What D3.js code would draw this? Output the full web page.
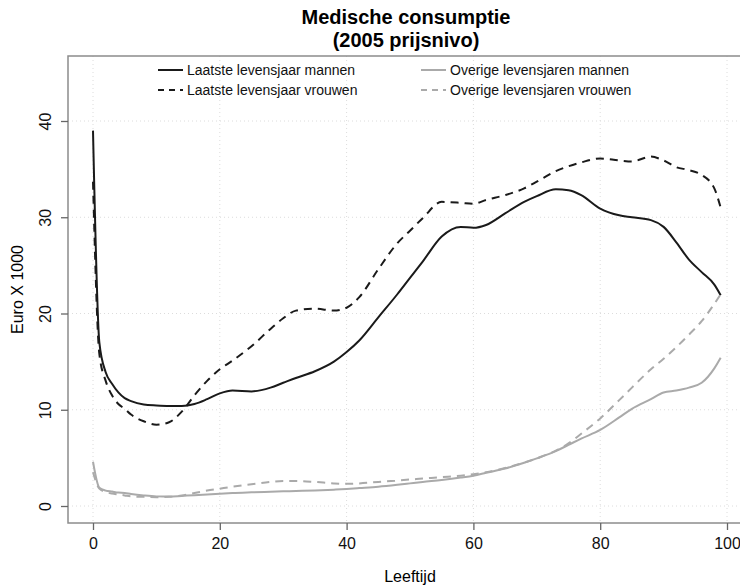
<!DOCTYPE html>
<html>
<head>
<meta charset="utf-8">
<script src="https://cdn.jsdelivr.net/npm/d3@7"></script>
<style>
  body { margin: 0; background: #fff; }
  svg { font-family: "Liberation Sans", Arial, Helvetica, sans-serif; }
</style>
</head>
<body>
<div id="chart"></div>
<script>
// leeftijden (x) en waarden in euro x 1000
const ages = [0,1,2,3,4,5,6,8,10,12,14,16,18,20,22,25,28,30,32,35,38,40,42,45,48,50,52,55,58,60,62,65,68,70,73,75,77,80,83,85,88,90,92,94,96,98,99];
const laatsteMannen = [39,17,13.9,12.7,11.8,11.2,10.9,10.55,10.45,10.4,10.4,10.6,11.1,11.7,12.0,11.9,12.3,12.8,13.3,14.0,15.0,16.0,17.2,19.6,22.0,23.7,25.4,28.0,29.0,28.9,29.2,30.4,31.6,32.2,32.9,32.8,32.3,30.9,30.2,30.0,29.7,29.0,27.4,25.6,24.3,23.0,21.9];
const laatsteVrouwen = [33.7,15.8,13.0,11.5,10.6,10.1,9.5,8.8,8.45,8.7,9.8,11.5,13.0,14.2,15.1,16.6,18.4,19.5,20.3,20.5,20.3,20.6,21.7,24.6,27.3,28.6,29.9,31.6,31.5,31.4,31.8,32.3,33.0,33.7,34.8,35.3,35.7,36.1,35.9,35.8,36.3,35.9,35.2,34.9,34.4,33.0,31.0];
const overigeMannen = [4.6,1.9,1.6,1.5,1.4,1.35,1.25,1.1,1.0,0.98,1.05,1.12,1.2,1.28,1.35,1.42,1.48,1.52,1.56,1.62,1.7,1.77,1.86,2.0,2.2,2.35,2.5,2.7,2.95,3.15,3.45,3.9,4.5,4.95,5.7,6.35,7.0,7.9,9.2,10.1,11.1,11.8,12.0,12.3,12.8,14.3,15.4];
const overigeVrouwen = [3.5,1.8,1.45,1.3,1.2,1.1,1.0,0.95,0.92,0.95,1.1,1.35,1.6,1.8,2.0,2.25,2.5,2.6,2.6,2.5,2.35,2.3,2.35,2.5,2.65,2.75,2.85,3.0,3.15,3.3,3.5,3.95,4.5,4.95,5.75,6.5,7.5,9.1,11.0,12.3,14.2,15.3,16.5,17.8,19.2,21.0,22.0];
const xTicks = [0,20,40,60,80,100];
const yTicks = [0,10,20,30,40];

const series = [
  {name: "Laatste levensjaar mannen", values: laatsteMannen, color: "#1a1a1a", dash: null},
  {name: "Laatste levensjaar vrouwen", values: laatsteVrouwen, color: "#1a1a1a", dash: "8,6"},
  {name: "Overige levensjaren mannen", values: overigeMannen, color: "#aaaaaa", dash: null},
  {name: "Overige levensjaren vrouwen", values: overigeVrouwen, color: "#aaaaaa", dash: "8,6"}
];

const width = 740, height = 586;
const box = {left: 68, right: 748, top: 56, bottom: 523};

const svg = d3.select("#chart").append("svg")
  .attr("width", width)
  .attr("height", height);

const x = d3.scaleLinear().domain([0, 100]).range([93, 727]);
const y = d3.scaleLinear().domain([0, 40]).range([506, 121]);

// grid (dotted)
svg.append("g").selectAll("line").data(xTicks).enter().append("line")
  .attr("x1", d => x(d)).attr("x2", d => x(d))
  .attr("y1", box.top).attr("y2", box.bottom)
  .attr("stroke", "#dcdcdc").attr("stroke-dasharray", "1,3");
svg.append("g").selectAll("line").data(yTicks).enter().append("line")
  .attr("x1", box.left).attr("x2", box.right)
  .attr("y1", d => y(d)).attr("y2", d => y(d))
  .attr("stroke", "#dcdcdc").attr("stroke-dasharray", "1,3");

// frame
svg.append("rect")
  .attr("x", box.left).attr("y", box.top)
  .attr("width", box.right - box.left).attr("height", box.bottom - box.top)
  .attr("fill", "none").attr("stroke", "#8c8c8c").attr("stroke-width", 1.5);

// axes
const xAxis = svg.append("g")
  .attr("transform", "translate(0," + box.bottom + ")")
  .call(d3.axisBottom(x).tickValues(xTicks).tickSize(7).tickPadding(8));
const yAxis = svg.append("g")
  .attr("transform", "translate(" + box.left + ",0)")
  .call(d3.axisLeft(y).tickValues(yTicks).tickSize(7).tickPadding(9));
[xAxis, yAxis].forEach(a => {
  a.select(".domain").remove();
  a.selectAll(".tick line").attr("stroke", "#666").attr("stroke-width", 1.3);
  a.selectAll("text").attr("font-size", 16).attr("fill", "#111")
    .attr("font-family", "'Liberation Sans', Arial, sans-serif");
});
yAxis.selectAll(".tick text")
  .attr("text-anchor", "middle")
  .attr("dy", null)
  .attr("transform", "rotate(-90)")
  .attr("x", 0)
  .attr("y", -17);

// lines
const line = d3.line()
  .x((d, i) => x(ages[i]))
  .y(d => y(d))
  .curve(d3.curveMonotoneX);

series.forEach(s => {
  svg.append("path")
    .datum(s.values)
    .attr("d", line)
    .attr("fill", "none")
    .attr("stroke", s.color)
    .attr("stroke-width", 2)
    .attr("stroke-dasharray", s.dash);
});

// legend
const legendPos = [[158, 70], [158, 90], [421, 70], [421, 90]];
series.forEach((s, i) => {
  const [lx, ly] = legendPos[i];
  svg.append("line")
    .attr("x1", lx).attr("x2", lx + 25)
    .attr("y1", ly).attr("y2", ly)
    .attr("stroke", s.color).attr("stroke-width", 2)
    .attr("stroke-dasharray", s.dash ? "6,5" : null);
  svg.append("text")
    .attr("x", lx + 29).attr("y", ly + 5)
    .attr("font-size", 14).attr("fill", "#111")
    .text(s.name);
});

// titles
svg.append("text").attr("x", 406).attr("y", 24)
  .attr("text-anchor", "middle").attr("font-size", 20).attr("font-weight", "bold")
  .text("Medische consumptie");
svg.append("text").attr("x", 406).attr("y", 47)
  .attr("text-anchor", "middle").attr("font-size", 20).attr("font-weight", "bold")
  .text("(2005 prijsnivo)");
svg.append("text").attr("x", 410).attr("y", 582)
  .attr("text-anchor", "middle").attr("font-size", 16)
  .text("Leeftijd");
svg.append("text")
  .attr("transform", "translate(23," + ((box.top + box.bottom) / 2) + ") rotate(-90)")
  .attr("text-anchor", "middle").attr("font-size", 16)
  .text("Euro X 1000");
</script>
</body>
</html>
